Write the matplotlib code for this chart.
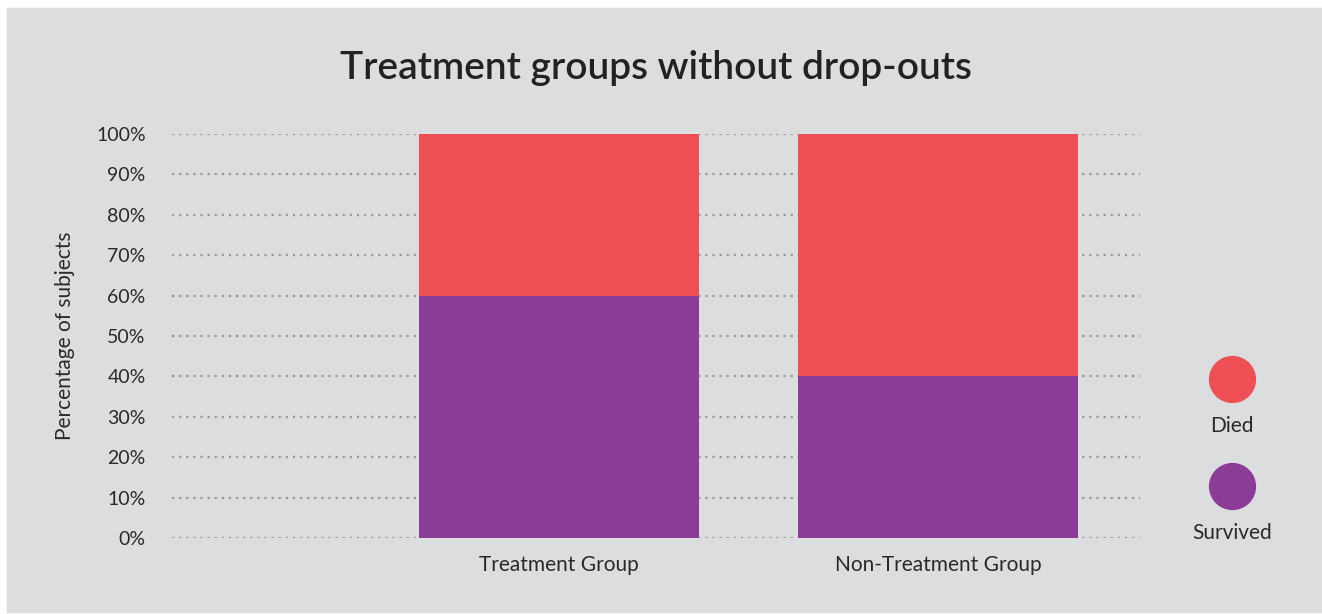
import numpy as np
import matplotlib.pyplot as plt
from matplotlib.patches import Rectangle

plt.rcParams['font.family'] = ['Lato', 'DejaVu Sans']

groups = ["Treatment Group", "Non-Treatment Group"]
survived = [60, 40]
died = [40, 60]
yticks = [0, 10, 20, 30, 40, 50, 60, 70, 80, 90, 100]

c_survived = '#8b3c96'
c_died = '#ef5055'
bg = '#dcdddf'
txt = '#2a2a2a'

W, H = 1322, 614
fig = plt.figure(figsize=(W / 100, H / 100), dpi=100)
fig.patch.set_facecolor('white')
# gray panel behind everything
fig.add_artist(Rectangle((7 / W, 2 / H), 1 - 7 / W, 1 - 10 / H,
                         transform=fig.transFigure, color=bg, zorder=-10))

ax = fig.add_axes([172 / W, 1 - 538 / H, (1140 - 172) / W, (538 - 134) / H])
ax.set_facecolor('none')

x = np.arange(len(groups)) + 1
ax.bar(x, survived, width=0.739, color=c_survived, zorder=3)
ax.bar(x, died, width=0.739, bottom=survived, color=c_died, zorder=3)

ax.set_xlim(-0.021, 2.533)
ax.set_ylim(0, 100)
ax.set_yticks(yticks)
ax.set_yticklabels([f"{v}%" for v in yticks], fontsize=14, color=txt)
ax.set_xticks(x)
ax.set_xticklabels(groups, fontsize=15, color=txt)
ax.tick_params(length=0)
ax.tick_params(axis='y', pad=19)
ax.tick_params(axis='x', pad=12)
for s in ax.spines.values():
    s.set_visible(False)
ax.yaxis.grid(True, linestyle=(0, (1, 2.2)), color='#9a9a9a', linewidth=1.6, zorder=0)
ax.set_axisbelow(True)

ax.set_ylabel("Percentage of subjects", fontsize=15, color=txt, labelpad=15)

fig.text(656 / W, 1 - 68 / H, "Treatment groups without drop-outs",
         ha='center', va='center', fontsize=28, fontweight='semibold', color='#222222')

# legend: colored dots with labels underneath
leg = [("Died", c_died, 379), ("Survived", c_survived, 486)]
for name, col, yp in leg:
    fig.add_artist(plt.Line2D([1232 / W], [1 - yp / H], marker='o', markersize=33,
                              color=col, linestyle='none', transform=fig.transFigure))
    fig.text(1232 / W, 1 - (yp + 47) / H, name, ha='center', va='center',
             fontsize=15, color=txt)

fig.savefig('out.png', dpi=100, facecolor=fig.get_facecolor())
